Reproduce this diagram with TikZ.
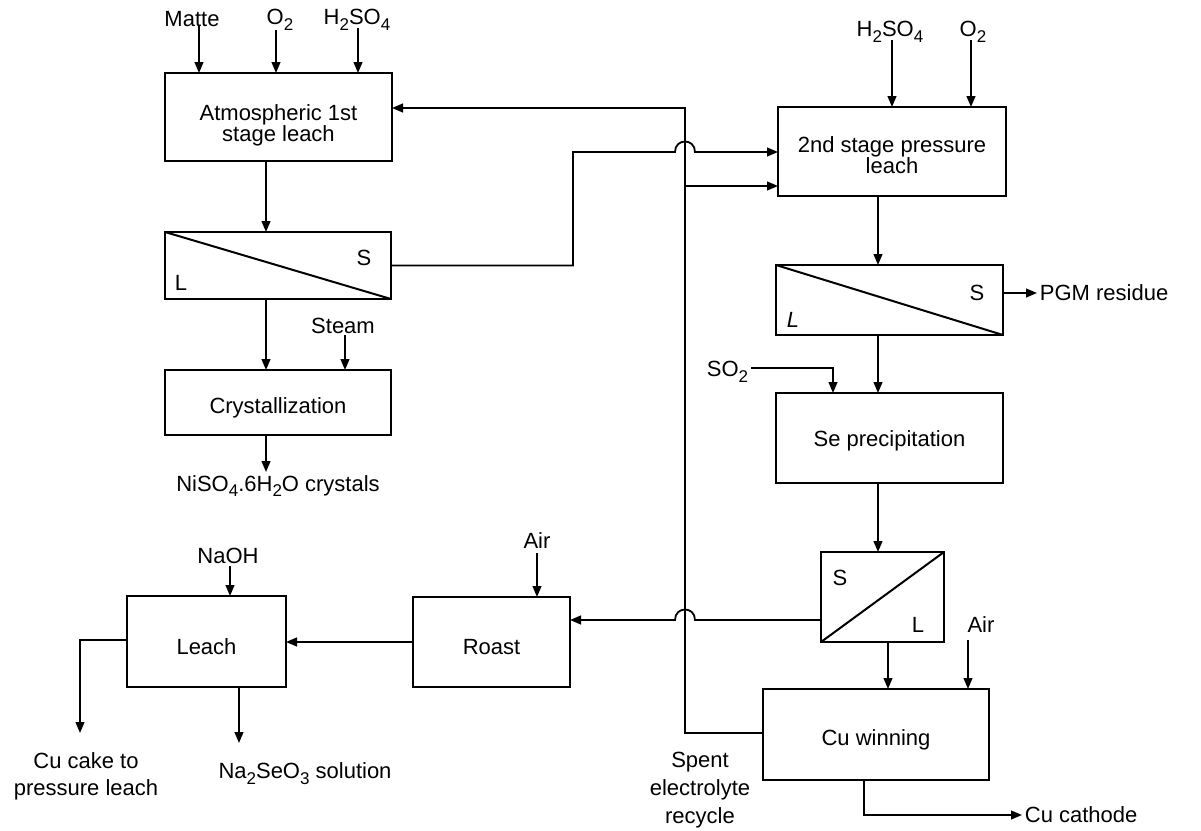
\documentclass[tikz,border=0pt]{standalone}
\usepackage{fontspec}
\setmainfont{Liberation Sans}
\usetikzlibrary{arrows.meta}
\newcommand{\sbs}[1]{\raisebox{-0.5ex}{\fontsize{8.5}{8.5}\selectfont#1}}
\begin{document}
\begin{tikzpicture}[x=0.5pt,y=-0.5pt,
  font=\fontsize{11}{10.5}\selectfont,
  line width=0.9pt,
  box/.style={draw, line width=1pt, inner sep=0pt, outer sep=0pt},
  lbl/.style={inner sep=1pt, align=center},
  arr/.style={-{Triangle[length=5.5pt,width=4.4pt]}}]
\useasboundingbox[fill=white] (0,0) rectangle (1201,831);
% process boxes
\node[box, minimum width=113.5pt, minimum height=44pt] (atm) at (278.5,117) {};
\node[box, minimum width=113pt, minimum height=33.5pt] (sepA) at (278,265.5) {};
\node[box, minimum width=113pt, minimum height=32.5pt] (cry) at (278,402.5) {};
\node[box, minimum width=114pt, minimum height=44.5pt] (psl) at (892,151.5) {};
\node[box, minimum width=113.5pt, minimum height=35pt] (sepB) at (889.5,300) {};
\node[box, minimum width=113.5pt, minimum height=45pt] (sep) at (889.5,438) {};
\node[box, minimum width=61.5pt, minimum height=45pt] (sepC) at (882.5,597) {};
\node[box, minimum width=113pt, minimum height=45.5pt] (cuw) at (876,734.5) {};
\node[box, minimum width=78.5pt, minimum height=45pt] (roast) at (491.5,642) {};
\node[box, minimum width=79.5pt, minimum height=45.5pt] (leach) at (206.5,641.5) {};
% box texts
\node[lbl] (atmT) at ([yshift=-4pt]atm.center) {Atmospheric 1st\\stage leach};
\node[lbl] (cryT) at ([yshift=-2.5pt]cry.center) {Crystallization};
\node[lbl] (pslT) at ([yshift=-2pt]psl.center) {2nd stage pressure\\leach};
\node[lbl] (sepT) at ([yshift=-1.5pt]sep.center) {Se precipitation};
\node[lbl] (cuwT) at ([yshift=-2.5pt]cuw.center) {Cu winning};
\node[lbl] (roastT) at ([yshift=-2.5pt]roast.center) {Roast};
\node[lbl] (leachT) at ([yshift=-2.5pt]leach.center) {Leach};
% separator diagonals and phase letters
\draw[line width=1pt] (sepA.north west) -- (sepA.south east);
\draw[line width=1pt] (sepB.north west) -- (sepB.south east);
\draw[line width=1pt] (sepC.south west) -- (sepC.north east);
\node[lbl] (sA) at (364,258) {S};
\node[lbl] (lA) at (181,283) {L};
\node[lbl] (sB) at (977,293) {S};
\node[lbl] (lB) at (793,320) {\textit{L}};
\node[lbl] (sC) at (840,578) {S};
\node[lbl] (lC) at (918,625) {L};
% helper coordinates
\coordinate (x266) at (266,0);
\coordinate (x878) at (878,0);
\coordinate (x888) at (888,0);
\coordinate (x864) at (864,0);
\coordinate (x833) at (833,0);
\coordinate (x239) at (239,0);
\coordinate (y108) at (0,108);
\coordinate (y152) at (0,152);
\coordinate (y186) at (0,186);
\coordinate (y293) at (0,293);
\coordinate (y368) at (0,368);
\coordinate (y620) at (0,620);
\coordinate (y640) at (0,640);
\coordinate (y642) at (0,642);
\coordinate (y733) at (0,733);
% feed labels
\node[lbl] (matte) at (192,19) {Matte};
\node[lbl] (o2a) at (280,20) {O\sbs{2}};
\node[lbl] (hsa) at (357,20) {H\sbs{2}SO\sbs{4}};
\node[lbl] (hsb) at (890,32) {H\sbs{2}SO\sbs{4}};
\node[lbl] (o2b) at (973,32) {O\sbs{2}};
\node[lbl] (steam) at (343,326) {Steam};
\node[lbl, anchor=east] (so2) at (751,372) {SO\sbs{2}};
\node[lbl, anchor=west] (pgm) at (1037,293) {PGM residue};
\node[lbl] (nis) at (278,486) {NiSO\sbs{4}.6H\sbs{2}O crystals};
\node[lbl] (airR) at (537,541) {Air};
\node[lbl] (naoh) at (228,556) {NaOH};
\node[lbl] (airW) at (981,625) {Air};
\node[lbl, anchor=west] (cath) at (1022,815) {Cu cathode};
\node[lbl, font=\fontsize{11}{14}\selectfont] (spent) at (700,790) {Spent\\electrolyte\\recycle};
\node[lbl, font=\fontsize{11}{13.5}\selectfont] (cake) at (86,776) {Cu cake to\\pressure leach};
\node[lbl] (nase) at (305,774) {Na\sbs{2}SeO\sbs{3} solution};
% arrow start points under labels
\coordinate (matteS) at (199,26);
\coordinate (o2aS) at (276,30);
\coordinate (hsaS) at (358,28);
\coordinate (hsbS) at (892,40);
\coordinate (o2bS) at (971,40);
\coordinate (steamS) at (345,335);
\coordinate (airRS) at (537,553);
\coordinate (naohS) at (230,566);
\coordinate (airWS) at (968,640);
\coordinate (cakeE) at (80,733);
\coordinate (naseE) at (239,743);
\coordinate (nisE) at (266,472);
% feeds
\draw[arr] (matteS) -- (matteS |- atm.north);
\draw[arr] (o2aS) -- (o2aS |- atm.north);
\draw[arr] (hsaS) -- (hsaS |- atm.north);
\draw[arr] (hsbS) -- (hsbS |- psl.north);
\draw[arr] (o2bS) -- (o2bS |- psl.north);
\draw[arr] (steamS) -- (steamS |- cry.north);
\draw[arr] (airRS) -- (airRS |- roast.north);
\draw[arr] (naohS) -- (naohS |- leach.north);
\draw[arr] (airWS) -- (airWS |- cuw.north);
\draw[arr] (so2.east |- y368) -| (sep.north -| x833);
% main flows
\draw[arr] (atm.south -| x266) -- (sepA.north -| x266);
\draw[arr] (sepA.south -| x266) -- (cry.north -| x266);
\draw[arr] (cry.south -| x266) -- (nisE);
\draw[arr] (sepA.east) -| (573,152) -- (675,152) .. controls (675,138) and (695,138) .. (695,152) -- (psl.west |- y152);
\draw[arr] (cuw.west |- y733) -- (685,733) -- (685,108) -- (atm.east |- y108);
\draw[arr] (685,186) -- (psl.west |- y186);
\draw[arr] (psl.south -| x878) -- (sepB.north -| x878);
\draw[arr] (sepB.east |- y293) -- (pgm.west);
\draw[arr] (sepB.south -| x878) -- (sep.north -| x878);
\draw[arr] (sep.south -| x878) -- (sepC.north -| x878);
\draw[arr] (sepC.west |- y620) -- (695,620) .. controls (695,606) and (675,606) .. (675,620) -- (roast.east |- y620);
\draw[arr] (sepC.south -| x888) -- (cuw.north -| x888);
\draw[arr] (cuw.south -| x864) |- (cath.west);
\draw[arr] (roast.west |- y642) -- (leach.east |- y642);
\draw[arr] (leach.west |- y640) -| (cakeE);
\draw[arr] (leach.south -| x239) -- (naseE);
\end{tikzpicture}
\end{document}
